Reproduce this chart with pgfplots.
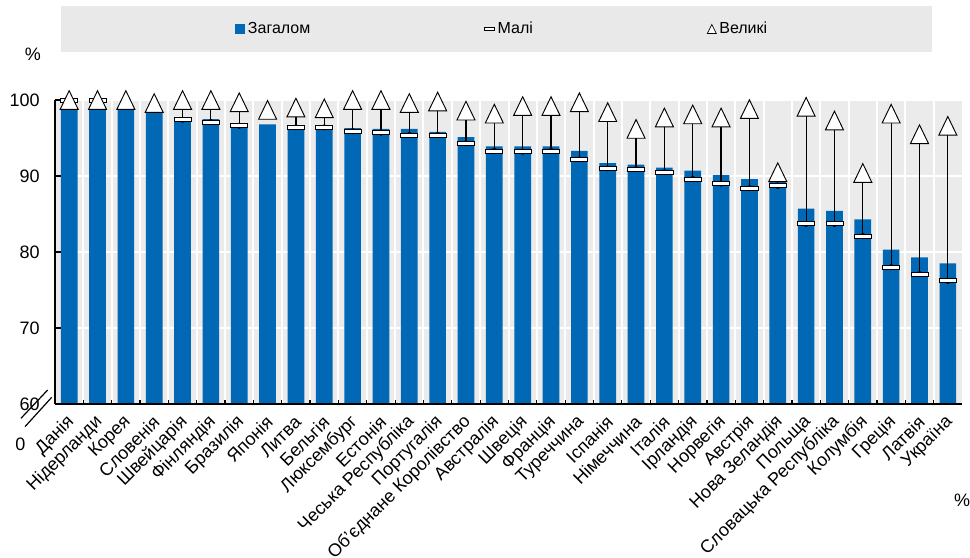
\documentclass[border=0pt]{standalone}
\usepackage{fontspec}
\setmainfont{Liberation Sans}
\usepackage{pgfplots}
\pgfplotsset{compat=1.18}
\usepackage{pgfplotstable}
\definecolor{barblue}{RGB}{0,104,180}
\definecolor{bggrey}{RGB}{235,235,235}
\definecolor{leggrey}{RGB}{233,233,233}
\newcommand{\tfont}{\fontsize{13.5}{15}\selectfont}

\pgfdeclareplotmark{smallbar}{%
  \pgfpathrectangle{\pgfpoint{-6.4pt}{-1.5pt}}{\pgfpoint{12.8pt}{3pt}}%
  \pgfusepathqfillstroke}
\pgfdeclareplotmark{bigtri}{%
  \pgfpathmoveto{\pgfpoint{0pt}{7pt}}%
  \pgfpathlineto{\pgfpoint{-6.75pt}{-7pt}}%
  \pgfpathlineto{\pgfpoint{6.75pt}{-7pt}}%
  \pgfpathclose
  \pgfusepathqfillstroke}

\pgfplotstableread[col sep=comma]{
i,total,small,large
0,99.0,99.9,100.0
1,99.0,99.9,100.0
2,99.0,nan,100.0
3,98.5,nan,99.6
4,97.5,97.4,100.0
5,97.5,97.1,100.0
6,96.6,96.6,99.7
7,96.8,nan,98.7
8,96.5,96.4,99.0
9,96.5,96.4,98.9
10,96.3,95.9,100.0
11,96.2,95.7,100.0
12,96.2,95.4,99.6
13,95.8,95.4,99.8
14,95.1,94.3,98.6
15,93.9,93.3,98.2
16,93.9,93.2,99.2
17,93.9,93.3,99.2
18,93.3,92.2,99.7
19,91.7,91.0,98.4
20,91.5,90.9,96.2
21,91.1,90.5,97.7
22,90.7,89.6,98.1
23,90.1,89.0,97.7
24,89.6,88.4,98.8
25,89.2,88.7,90.5
26,85.7,83.7,99.1
27,85.4,83.7,97.3
28,84.3,82.1,90.4
29,80.3,78.0,98.2
30,79.3,77.1,95.5
31,78.5,76.2,96.6
}\data

\begin{document}
\begin{tikzpicture}
\fill[leggrey] (4.5pt,264pt) rectangle (657.75pt,298.5pt);
\begin{axis}[
  at={(0,0)}, anchor=south west, scale only axis,
  width=680.25pt, height=228pt,
  xmin=-0.5, xmax=31.5, ymin=60, ymax=100,
  axis background/.style={fill=bggrey},
  axis x line*=bottom, axis y line*=left,
  axis line style={-, black, line width=1.1pt},
  xtick={0,...,31},
  xticklabels={Данія,Нідерланди,Корея,Словенія,Швейцарія,Фінляндія,Бразилія,Японія,Литва,Бельгія,Люксембург,Естонія,Чеська Республіка,Португалія,Об’єднане Королівство,Австралія,Швеція,Франція,Туреччина,Іспанія,Німеччина,Італія,Ірландія,Норвегія,Австрія,Нова Зеландія,Польща,Словацька Республіка,Колумбія,Греція,Латвія,Україна},
  major x tick style={draw=none},
  minor xtick={0.5,1.5,...,30.5},
  xminorgrids, ymajorgrids,
  minor grid style={white, line width=1.5pt},
  major grid style={white, line width=1.5pt},
  ytick={60,70,80,90,100},
  tick align=inside, major tick length=5.25pt, minor tick length=3pt,
  tick style={black, line width=0.9pt},
  /pgf/number format/assume math mode=true,
  tick label style={font=\tfont},
  yticklabel style={font=\tfont, xshift=-8pt},
  xticklabel style={font=\tfont, xshift=4pt, yshift=-9pt, rotate=45, anchor=east},
  clip mode=individual,
  legend style={at={(axis description cs:0.1985,1.2336)}, anchor=west,
    draw=none, fill=none, inner sep=0pt, legend columns=3,
    font=\fontsize{12}{14}\selectfont,
    /tikz/every even column/.append style={column sep=128.5pt}},
]
\addplot[ybar, bar width=12.5pt, fill=barblue, draw=none,
  legend image code/.code={\fill[barblue] (0pt,-3.75pt) rectangle (7.5pt,3.75pt);}]
  table[x=i, y=total] {\data};
\addlegendentry{Загалом}
\addplot[forget plot, only marks, mark=none,
  error bars/.cd, y dir=plus, y explicit, error mark=none,
  error bar style={draw=black, line width=0.9pt}]
  table[x=i, y=small, y error expr=\thisrow{large}-\thisrow{small}] {\data};
\addplot[only marks, mark=smallbar, mark options={draw=black, fill=white, line width=0.6pt},
  legend image code/.code={\draw[black, fill=white, line width=0.5pt] (0pt,-1.1pt) rectangle (7.5pt,1.1pt);}]
  table[x=i, y=small] {\data};
\addlegendentry{Малі}
\addplot[only marks, mark=bigtri, mark options={draw=black, fill=white, line width=0.7pt},
  legend image code/.code={\draw[black, fill=white, line width=0.5pt] (0pt,-3.4pt) -- (3.4pt,3.4pt) -- (6.8pt,-3.4pt) -- cycle;}]
  table[x=i, y=large] {\data};
\addlegendentry{Великі}
\end{axis}
\draw[black, line width=1.1pt] (0,0) -- (680.25pt,0);
\node[font=\tfont] at (-16.5pt,262.5pt) {\%};
\node[font=\tfont] at (680.25pt,-72pt) {\%};
\node[font=\tfont] at (-25.9pt,-30pt) {0};
\draw[black, line width=0.9pt] (-25.5pt,-10.7pt) -- (-5.5pt,10.5pt);
\draw[black, line width=0.9pt] (-22.5pt,-17pt) -- (-2.5pt,5pt);
\pgfresetboundingbox
\path[use as bounding box] (-41.25pt,-114.75pt) rectangle (686.25pt,303pt);
\end{tikzpicture}
\end{document}
